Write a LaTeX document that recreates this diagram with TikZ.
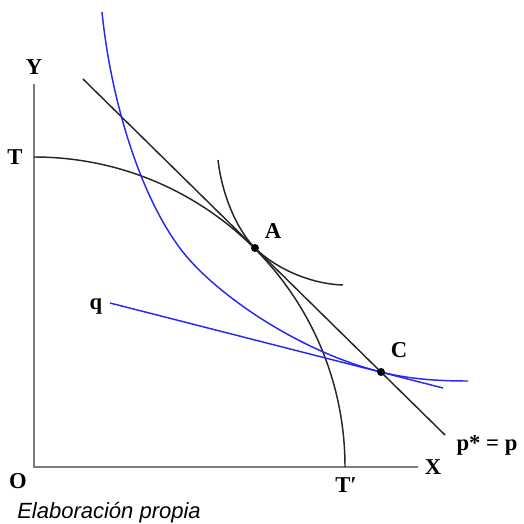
\documentclass[tikz,border=0pt]{standalone}
\usepackage{fontspec}
\setmainfont{Liberation Serif}
\newfontfamily\notefont{Liberation Sans}
\usepackage{xcolor}
\usetikzlibrary{positioning}

\definecolor{icblue}{RGB}{40,40,240}
\definecolor{axisgray}{RGB}{125,125,125}

\begin{document}
\begin{tikzpicture}[x=0.75pt,y=0.75pt,yscale=-1,xscale=1,
  axis/.style={draw=axisgray,line width=1.9pt},
  curve/.style={draw=black!85,line width=1.1pt},
  icurve/.style={draw=icblue,line width=1.1pt},
  lbl/.style={inner sep=0.75pt,font=\bfseries\fontsize{17}{20}\selectfont}]
\useasboundingbox (0,0) rectangle (524,524);

\coordinate (O) at (34,467);
\coordinate (Ytop) at (34,84);
\coordinate (Xend) at (418,467);
\coordinate (T) at (34,157);
\coordinate (A) at (255,248);
\coordinate (C) at (381,372);
\coordinate (pstart) at (83,79);
\coordinate (pend) at (445,435);
\coordinate (qstart) at (110,303);
\coordinate (qend) at (443,388);

%Straight Lines
\draw [axis] (Ytop) -- (O) -- (Xend) ;
%Curve Lines
\draw [curve] (T) arc [start angle=270,end angle=360,x radius=311,y radius=310] ;
%Straight Lines
\draw [curve] (pstart) -- (pend) ;
%Curve Lines
\draw [curve] (218,160) .. controls (222,195) and (237,230) .. (A) .. controls (275,268) and (310,284) .. (343,285) ;
%Curve Lines
\draw [icurve] (102,12) .. controls (111,102) and (142,204) .. (187,257) .. controls (222,298) and (301,352) .. (C) .. controls (411,379.5) and (440,381) .. (468,381) ;
%Straight Lines
\draw [icurve] (qstart) -- (qend) ;

\fill (A) circle [radius=4] ;
\fill (C) circle [radius=4] ;

% Text Node
\node [lbl] (Ylab) at (34,67) {Y};
\node [lbl] (Tlab) at (15,157) {T};
\node [lbl] (Alab) at (273,231) {A};
\node [lbl] (qlab) at (96,306) {q};
\node [lbl] (Clab) at (399,350) {C};
\node [lbl] (plab) at (487,445) {p* = p};
\node [lbl] (Xlab) at (433,467) {X};
\node [lbl] (Olab) at (18,481) {O};
\node [lbl] (Tplab) at (346,485) {T′};
\node [anchor=base west,inner sep=0pt,font=\notefont\itshape\fontsize{16.5}{18}\selectfont] (src) at (17,518) {Elaboración propia};

\end{tikzpicture}
\end{document}
